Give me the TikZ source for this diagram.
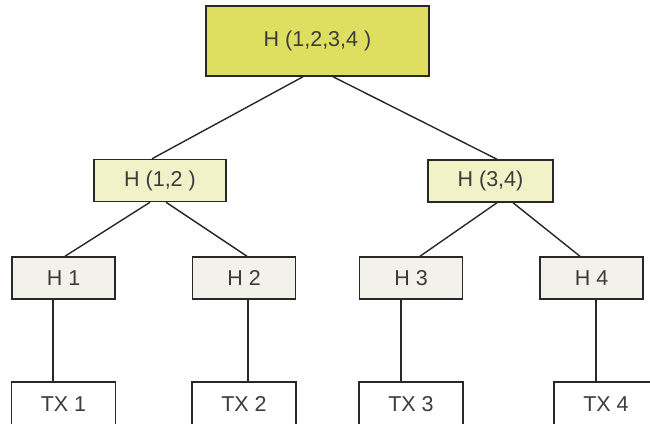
\documentclass[tikz,border=0pt]{standalone}
\usepackage{fontspec}
\setmainfont{Liberation Sans}
\definecolor{topfill}{RGB}{222,222,96}
\definecolor{midfill}{RGB}{242,242,200}
\definecolor{leaffill}{RGB}{242,242,234}
\definecolor{edge}{RGB}{40,40,40}
\definecolor{txt}{RGB}{60,60,60}
\tikzset{
  box/.style={draw=edge, line width=1.5pt, inner sep=0pt, text=txt,
    font=\fontsize{21.5}{25}\selectfont},
  topbox/.style={box, fill=topfill, minimum width=223pt, minimum height=70pt},
  midbox/.style={box, fill=midfill, minimum height=42pt},
  hbox/.style={box, fill=leaffill, minimum width=103pt, minimum height=42pt},
  txbox/.style={box, fill=white, minimum width=104pt, minimum height=44pt},
  link/.style={draw=edge, line width=1.4pt}
}
\begin{document}
\begin{tikzpicture}[x=1pt,y=-1pt]
\useasboundingbox (0,0) rectangle (650,423);
\fill[white] (0,0) rectangle (650,423);
\clip (0,0) rectangle (650,423);
\node[topbox] (top) at (317.5,41) {H (1,2,3,4 )};
\node[midbox, minimum width=132pt] (h12) at (160,180.5) {H (1,2 )};
\node[midbox, minimum width=125pt] (h34) at (490.5,181) {H (3,4)};
\node[hbox] (h1) at (63.5,278) {H 1};
\node[hbox] (h2) at (244,278) {H 2};
\node[hbox] (h3) at (411,278) {H 3};
\node[hbox] (h4) at (591.5,278) {H 4};
\node[txbox] (tx1) at (63.5,404) {TX 1};
\node[txbox] (tx2) at (244,404) {TX 2};
\node[txbox] (tx3) at (411,404) {TX 3};
\node[txbox] (tx4) at (606,404) {TX 4};
\draw[link] ([xshift=-14.5pt]top.south) -- ([xshift=-8pt]h12.north);
\draw[link] ([xshift=15.5pt]top.south) -- ([xshift=6.5pt]h34.north);
\draw[link] ([xshift=-10pt]h12.south) -- ([xshift=1.5pt]h1.north);
\draw[link] ([xshift=6pt]h12.south) -- ([xshift=3pt]h2.north);
\draw[link] ([xshift=6.5pt]h34.south) -- ([xshift=9pt]h3.north);
\draw[link] ([xshift=22.5pt]h34.south) -- ([xshift=-11.5pt]h4.north);
\draw[link] ([xshift=-10.5pt]h1.south) -- ([xshift=-10.5pt]h1.south |- tx1.north);
\draw[link] ([xshift=4pt]h2.south) -- ([xshift=4pt]h2.south |- tx2.north);
\draw[link] ([xshift=-10pt]h3.south) -- ([xshift=-10pt]h3.south |- tx3.north);
\draw[link] ([xshift=4.5pt]h4.south) -- ([xshift=4.5pt]h4.south |- tx4.north);
\end{tikzpicture}
\end{document}
